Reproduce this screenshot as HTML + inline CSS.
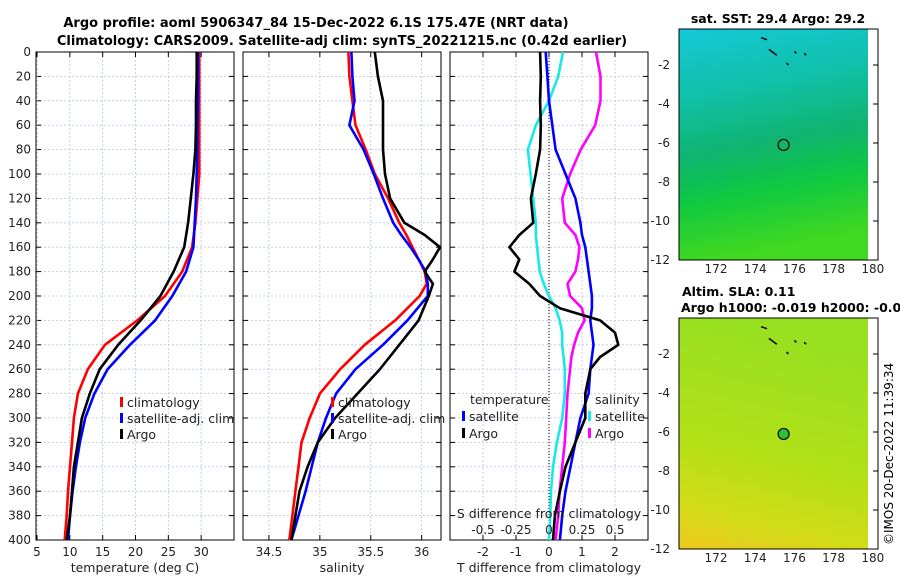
<!DOCTYPE html>
<html><head><meta charset="utf-8"><style>
body{margin:0;background:#fff;}
svg{display:block;font-family:"DejaVu Sans","Liberation Sans",sans-serif;}
</style></head><body>
<svg id="s" width="900" height="580" xmlns="http://www.w3.org/2000/svg">
<defs>
<linearGradient id="g1" x1="0" y1="0" x2="0.15" y2="1">
<stop offset="0" stop-color="#14c8d8"/><stop offset="0.3" stop-color="#10c0a8"/><stop offset="0.55" stop-color="#10b470"/><stop offset="0.75" stop-color="#10c840"/><stop offset="1" stop-color="#40d820"/></linearGradient>
<linearGradient id="g2" x1="0.2" y1="0" x2="0" y2="1">
<stop offset="0" stop-color="#98e020"/><stop offset="0.5" stop-color="#b0e018"/><stop offset="0.8" stop-color="#d0dc18"/><stop offset="1" stop-color="#f0c820"/></linearGradient>
</defs>
<text x="316" y="27" text-anchor="middle" font-size="13" font-weight="bold">Argo profile: aoml 5906347_84 15-Dec-2022 6.1S 175.47E (NRT data)</text>
<text x="342" y="45" text-anchor="middle" font-size="13" font-weight="bold">Climatology: CARS2009. Satellite-adj clim: synTS_20221215.nc (0.42d earlier)</text>
<g id="plots"></g>
<g id="maps"></g>
<text transform="translate(893,545) rotate(-90)" font-size="12">©IMOS 20-Dec-2022 11:39:34</text>
</svg>
<script>
const depths=[0,20,40,60,80,100,120,140,160,180,200,220,240,260,280,300,320,340,360,380,400];
const tempArgo=[29.5,29.5,29.4,29.4,29.3,29.0,28.6,28.2,27.6,26.0,24.0,21.0,17.6,14.8,13.3,12.1,11.5,10.9,10.6,10.3,9.8];
const tempClim=[29.9,29.9,29.9,29.9,29.9,29.9,29.6,29.3,28.8,27.3,24.7,20.5,15.6,13.0,11.5,10.9,10.6,10.3,10.0,9.8,9.5];
const tempSat=[29.7,29.7,29.7,29.6,29.6,29.5,29.4,29.2,29.0,27.9,25.8,23.2,19.4,16.0,14.0,12.6,11.8,11.2,10.7,10.3,10.0];
const salDepths=[0,20,40,60,80,100,120,140,150,160,170,180,190,200,220,240,260,280,300,320,340,360,380,400];
const salArgo=[35.54,35.57,35.62,35.62,35.62,35.64,35.69,35.83,36.03,36.18,36.11,36.03,36.11,36.07,35.97,35.78,35.59,35.37,35.15,34.98,34.88,34.80,34.76,34.72];
const salClim=[35.28,35.29,35.32,35.35,35.45,35.54,35.67,35.78,35.85,35.91,35.97,36.03,36.05,35.98,35.74,35.44,35.20,35.00,34.90,34.82,34.79,34.76,34.73,34.70];
const salSat=[35.31,35.32,35.34,35.29,35.43,35.53,35.62,35.72,35.80,35.89,35.97,36.04,36.06,36.06,35.86,35.62,35.35,35.16,35.06,34.98,34.92,34.86,34.79,34.72];
const diffDepths=[0,20,40,60,80,100,120,140,150,160,170,180,190,200,210,220,230,240,250,260,280,300,320,340,360,380,400];
const tDiffArgo=[-0.27,-0.25,-0.27,-0.25,-0.27,-0.4,-0.55,-0.48,-0.9,-1.2,-0.9,-1.05,-0.6,-0.27,0.33,1.55,2.0,2.1,1.55,1.25,1.1,1.1,0.8,0.5,0.33,0.18,0.12];
const tDiffSat=[-0.1,-0.05,0,0.1,0.2,0.5,0.8,0.95,1.0,1.1,1.15,1.2,1.25,1.3,1.3,1.25,1.3,1.35,1.3,1.25,1.2,0.95,0.8,0.65,0.5,0.4,0.33];
const sDiffSat=[0.106,0.07,0,-0.1,-0.16,-0.14,-0.12,-0.1,-0.1,-0.09,-0.08,-0.07,-0.04,0,0.05,0.08,0.1,0.1,0.11,0.12,0.12,0.1,0.06,0.03,0.015,0.01,0];
const sDiffArgo=[0.356,0.39,0.39,0.35,0.24,0.16,0.10,0.12,0.2,0.23,0.22,0.2,0.14,0.16,0.25,0.27,0.22,0.19,0.17,0.16,0.14,0.13,0.12,0.1,0.08,0.07,0.05];
const tempTicks=[5,10,15,20,25,30];
const salTicks=[34.5,35,35.5,36];
const tdTicks=[-2,-1,0,1,2];
const sdTicks=[-0.5,-0.25,0,0.25,0.5];
const depthTicks=[0,20,40,60,80,100,120,140,160,180,200,220,240,260,280,300,320,340,360,380,400];
const latTicks=[-2,-4,-6,-8,-10,-12];
const lonTicks=[172,174,176,178,180];

const NS='http://www.w3.org/2000/svg';
const P=document.getElementById('plots');
function el(t,a,p){const e=document.createElementNS(NS,t);for(const k in a)e.setAttribute(k,a[k]);(p||P).appendChild(e);return e;}
const Y0=52,Y1=540;
const yS=d=>Y0+d/400*(Y1-Y0);
function panel(x0,x1,lo,hi,ticks,name,xlabel,fmt){
  const xs=v=>x0+(v-lo)/(hi-lo)*(x1-x0);
  const g=el('g',{});
  
  
  depthTicks.forEach(d=>{const l=el('line',{x1:x0,x2:x1,y1:yS(d),y2:yS(d),stroke:'#b8c4e0','stroke-width':0.8,'stroke-dasharray':'2,2'},g);
    el('line',{x1:x0,x2:x0+5,y1:yS(d),y2:yS(d),stroke:'#000'},g);el('line',{x1:x1-5,x2:x1,y1:yS(d),y2:yS(d),stroke:'#000'},g);});
  ticks.forEach(v=>{const x=xs(v);const l=el('line',{x1:x,x2:x,y1:Y0,y2:Y1,stroke:'#b8c4e0','stroke-width':0.8,'stroke-dasharray':'2,2'},g);
    el('line',{x1:x,x2:x,y1:Y1,y2:Y1-5,stroke:'#000'},g);el('line',{x1:x,x2:x,y1:Y0,y2:Y0+5,stroke:'#000'},g);
    const t=el('text',{x:x,y:Y1+16,'text-anchor':'middle','font-size':12,fill:'#222'},g);t.textContent=fmt?fmt(v):v;});
  const b=el('rect',{x:x0,y:Y0,width:x1-x0,height:Y1-Y0,fill:'none',stroke:'#000','stroke-width':1},g);
  
  const t=el('text',{x:(x0+x1)/2,y:572,'text-anchor':'middle','font-size':12.5,fill:'#222'},g);t.textContent=xlabel;
  
  return {xs,g};
}
function line(p,vals,deps,col,name,xs){
  const d=vals.map((v,i)=>(i?'L':'M')+xs(v).toFixed(1)+','+yS(deps[i]).toFixed(1)).join('');
  const e=el('path',{d:d,fill:'none',stroke:col,'stroke-width':2.6,'stroke-linejoin':'round'},p.g);
  
}
function legend(g,x,y,col,label){
  const r=el('rect',{x:x,y:y-10,width:3,height:10,fill:col},g);
  const t=el('text',{x:x+7,y:y,'font-size':12.5,fill:'#222'},g);t.textContent=label;
  
}
depthTicks.forEach(d=>{const t=el('text',{x:31,y:yS(d)+4,'text-anchor':'end','font-size':12,fill:'#222'});t.textContent=d;
  });

const p1=panel(36,234,5-1/6.6,35,tempTicks,'temperature-panel','temperature (deg C)');
p1.xs=v=>35+(v-5)*6.6;
line(p1,tempClim,depths,'#f00','climatology-temp-line',p1.xs);
line(p1,tempSat,depths,'#00f','satellite-temp-line',p1.xs);
line(p1,tempArgo,depths,'#000','argo-temp-line',p1.xs);
legend(p1.g,120,407,'#f00','climatology');legend(p1.g,120,423,'#00f','satellite-adj. clim');legend(p1.g,120,439,'#000','Argo');

const p2=panel(243,441,34.245,36.19,salTicks,'salinity-panel','salinity');
line(p2,salClim,salDepths,'#f00','climatology-sal-line',p2.xs);
line(p2,salSat,salDepths,'#00f','satellite-sal-line',p2.xs);
line(p2,salArgo,salDepths,'#000','argo-sal-line',p2.xs);
legend(p2.g,331,407,'#f00','climatology');legend(p2.g,331,423,'#00f','satellite-adj. clim');legend(p2.g,331,439,'#000','Argo');

const p3=panel(450,648,-3,3,tdTicks,'difference-panel','T difference from climatology');
const sx=v=>549+v*132;
el('line',{x1:549,x2:549,y1:Y0,y2:Y1,stroke:'#000','stroke-dasharray':'1,2','stroke-width':1},p3.g);
line(p3,sDiffSat,diffDepths,'#18e8e8','satellite-sdiff-line',sx);
line(p3,sDiffArgo,diffDepths,'#f0f','argo-sdiff-line',sx);
line(p3,tDiffSat,diffDepths,'#00f','satellite-tdiff-line',p3.xs);
line(p3,tDiffArgo,diffDepths,'#000','argo-tdiff-line',p3.xs);
{const t=el('text',{x:470,y:404,'font-size':12.5,fill:'#222'},p3.g);t.textContent='temperature';
 const u=el('text',{x:595,y:404,'font-size':12.5,fill:'#222'},p3.g);u.textContent='salinity';}
legend(p3.g,462,421,'#00f','satellite');legend(p3.g,462,438,'#000','Argo');
legend(p3.g,588,421,'#18e8e8','satellite');legend(p3.g,588,438,'#f0f','Argo');
{const t=el('text',{x:549,y:518,'text-anchor':'middle','font-size':12.5,fill:'#222'},p3.g);t.textContent='S difference from climatology';
 sdTicks.forEach(v=>{const u=el('text',{x:sx(v),y:534,'text-anchor':'middle','font-size':12,fill:'#222'},p3.g);u.textContent=v;});}

const M=document.getElementById('maps');
const lonS=l=>716+(l-172)*19.6;
function map(y0,grad,name,title,dotFill){
  const g=el('g',{},M);
  const latS=l=>y0+36+(-2-l)*19.5;
  const r=el('rect',{x:679,y:y0,width:189,height:231,fill:'url(#'+grad+')'},g);
  el('rect',{x:679,y:y0,width:199,height:231,fill:'none',stroke:'#000','stroke-width':1},g);
  latTicks.forEach(l=>{const t=el('text',{x:670,y:latS(l)+4,'text-anchor':'end','font-size':12,fill:'#222'},g);t.textContent=l;
    el('line',{x1:873,x2:878,y1:latS(l),y2:latS(l),stroke:'#000'},g);});
  lonTicks.forEach(l=>{const t=el('text',{x:lonS(l),y:y0+244,'text-anchor':'middle','font-size':12,fill:'#222'},g);t.textContent=l;});
  [[174.3,-0.6,174.6,-0.7],[174.7,-1.2,175.1,-1.5],[176,-1.3,176.1,-1.4],[176.5,-1.4,176.6,-1.5],[175.6,-1.9,175.7,-2]].forEach(s=>el('line',{x1:lonS(s[0]),y1:latS(s[1]),x2:lonS(s[2]),y2:latS(s[3]),stroke:'#000','stroke-width':1.5},g));
  const c=el('circle',{cx:lonS(175.45),cy:latS(-6.1),r:5.5,fill:dotFill,stroke:'#000','stroke-width':1.2},g);
  
  if(title){const t=el('text',{x:778,y:y0-6,'text-anchor':'middle','font-size':12.5,'font-weight':'bold'},g);t.textContent=title;}
}
map(29,'g1','sst-map','sat. SST: 29.4 Argo: 29.2','none');
map(318,'g2','sla-map',null,'#30c030');
{const a=el('text',{x:682,y:296,'font-size':12.5,'font-weight':'bold'},M);a.textContent='Altim. SLA: 0.11';
 const b=el('text',{x:681,y:312,'font-size':12.5,'font-weight':'bold'},M);b.textContent='Argo h1000: -0.019 h2000: -0.035';}
</script>
</body></html>
